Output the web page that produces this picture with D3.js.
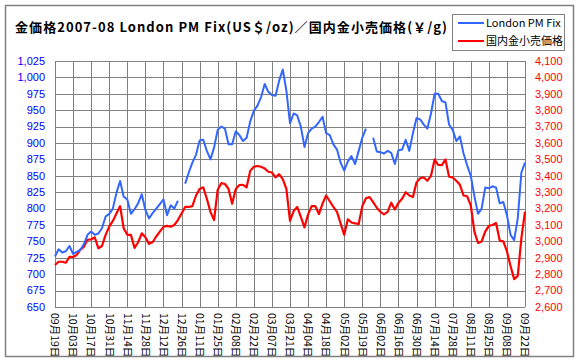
<!DOCTYPE html>
<html><head><meta charset="utf-8">
<script src="https://cdn.jsdelivr.net/npm/d3@7/dist/d3.min.js"></script>
<style>html,body{margin:0;padding:0;background:#fff}svg{display:block}</style>
</head><body>
<script>
// ---- data (sampled every 2 trading days) ----
const dateLabels = ["09月19日","10月03日","10月17日","10月31日","11月14日","11月28日","12月12日","12月26日","01月11日","01月25日","02月08日","02月22日","03月07日","03月21日","04月04日","04月18日","05月02日","05月19日","06月02日","06月16日","06月30日","07月14日","07月28日","08月11日","08月25日","09月08日","09月22日"];
const londonFix = [727,738,733,735,743,731,734,737,746,760,765,760,762,770,788,792,800,824,842,818,814,792,799,808,822,798,785,793,800,807,814,790,805,800,812,null,838,855,870,882,904,905,888,875,893,920,925,922,898,898,918,912,903,908,933,949,957,970,990,978,973,972,995,1012,980,930,945,942,925,894,915,922,925,932,940,915,912,898,890,870,858,872,880,868,888,908,922,null,908,887,886,884,888,885,868,889,890,905,888,915,938,936,928,922,945,975,975,964,962,928,920,903,910,884,866,850,819,792,800,832,831,834,832,808,810,790,760,752,785,855,870];
const retailPrice = [2856,2876,2876,2870,2906,2905,2917,2950,2967,3010,3012,3025,2958,2972,3040,3090,3125,3170,3215,3080,3040,3040,2960,2995,3049,3025,2985,2995,3030,3060,3089,3095,3090,3100,3130,3170,3210,3210,3215,3280,3320,3330,3260,3180,3130,3315,3355,3350,3320,3230,3320,3344,3345,3330,3430,3455,3460,3455,3445,3425,3420,3390,3410,3380,3320,3125,3185,3210,3150,3085,3165,3215,3215,3167,3230,3280,3245,3210,3180,3110,3040,3135,3115,3110,3106,3215,3263,3270,3240,3205,3180,3165,3180,3236,3195,3235,3260,3300,3280,3270,3360,3385,3390,3370,3400,3500,3466,3465,3500,3394,3390,3370,3345,3280,3275,3220,3060,2990,3000,3060,3095,3100,3112,3005,3000,2940,2850,2770,2790,3020,3181];
const leftTicks = d3.range(650, 1026, 25);
const rightTicks = d3.range(2600, 4101, 100);
const seriesNames = ["London PM Fix", "国内金小売価格"];
const seriesColors = ["#3366ff", "#ff0000"];
const titleText = "金価格2007-08 London PM Fix(US＄/oz)／国内金小売価格(￥/g)";

// ---- layout ----
const W = 580, H = 362;
const plot = {left: 55, right: 525, top: 61, bottom: 307};
const svg = d3.select("body").append("svg").attr("width", W).attr("height", H);
const font = "'Liberation Sans','Noto Sans CJK JP',sans-serif";

svg.append("rect").attr("x", 5.5).attr("y", 5.5).attr("width", 568).attr("height", 351)
  .attr("fill", "#fff").attr("stroke", "#808080").attr("stroke-width", 1.5);

const x = d3.scaleLinear().domain([0, londonFix.length - 1]).range([plot.left, plot.right]);
const yL = d3.scaleLinear().domain([650, 1025]).range([plot.bottom, plot.top]);
const yR = d3.scaleLinear().domain([2600, 4100]).range([plot.bottom, plot.top]);
const fmt = d3.format(",");

// grid
const grid = svg.append("g").attr("stroke", "#808080").attr("stroke-width", 1).attr("shape-rendering", "crispEdges");
grid.selectAll("line.h").data(leftTicks).join("line")
  .attr("x1", plot.left).attr("x2", plot.right)
  .attr("y1", d => Math.round(yL(d)) + 0.5).attr("y2", d => Math.round(yL(d)) + 0.5);
const tickIdx = dateLabels.map((_, i) => i * 5);
grid.selectAll("line.v").data(tickIdx).join("line")
  .attr("y1", plot.top).attr("y2", plot.bottom)
  .attr("x1", d => Math.round(x(d)) + 0.5).attr("x2", d => Math.round(x(d)) + 0.5);

// left axis labels
svg.append("g").selectAll("text").data(leftTicks).join("text")
  .attr("x", 45).attr("y", d => yL(d)).attr("dy", "0.35em")
  .attr("text-anchor", "end").attr("fill", "#0000ff")
  .attr("font-family", font).attr("font-size", 11).text(d => fmt(d));
// right axis labels
svg.append("g").selectAll("text").data(rightTicks).join("text")
  .attr("x", 535).attr("y", d => yR(d)).attr("dy", "0.35em")
  .attr("text-anchor", "start").attr("fill", "#ff0000")
  .attr("font-family", font).attr("font-size", 11).text(d => fmt(d));
// x labels (rotated)
svg.append("g").selectAll("text").data(dateLabels).join("text")
  .attr("transform", (d, i) => `translate(${x(i * 5)},313) rotate(90)`)
  .attr("dy", "0.35em").attr("text-anchor", "start")
  .attr("font-family", "'Noto Sans CJK JP',sans-serif").attr("font-size", 10.5)
  .attr("fill", "#000").text(d => d);

// lines
const line = d3.line().defined(d => d != null).x((d, i) => x(i));
svg.append("path").datum(retailPrice)
  .attr("d", line.y(d => yR(d))).attr("fill", "none")
  .attr("stroke", seriesColors[1]).attr("stroke-width", 2.2).attr("stroke-linejoin", "round");
svg.append("path").datum(londonFix)
  .attr("d", line.y(d => yL(d))).attr("fill", "none")
  .attr("stroke", seriesColors[0]).attr("stroke-width", 2).attr("stroke-linejoin", "round");

// title
svg.append("text").attr("x", 15).attr("y", 32)
  .attr("font-family", "'Noto Sans CJK JP',sans-serif").attr("font-size", 13).attr("font-weight", "bold")
  .attr("textLength", 432).attr("lengthAdjust", "spacing").text(titleText);

// legend
const lg = svg.append("g");
lg.append("rect").attr("x", 452.5).attr("y", 14.5).attr("width", 112).attr("height", 36)
  .attr("fill", "#fff").attr("stroke", "#808080").attr("stroke-width", 1);
seriesNames.forEach((n, i) => {
  const yy = 23 + i * 18;
  lg.append("line").attr("x1", 458).attr("x2", 484).attr("y1", yy).attr("y2", yy)
    .attr("stroke", seriesColors[i]).attr("stroke-width", 2);
  lg.append("text").attr("x", 486).attr("y", yy).attr("dy", "0.35em")
    .attr("font-family", "'Noto Sans CJK JP',sans-serif").attr("font-size", 11).text(n);
});
</script>
</body></html>
